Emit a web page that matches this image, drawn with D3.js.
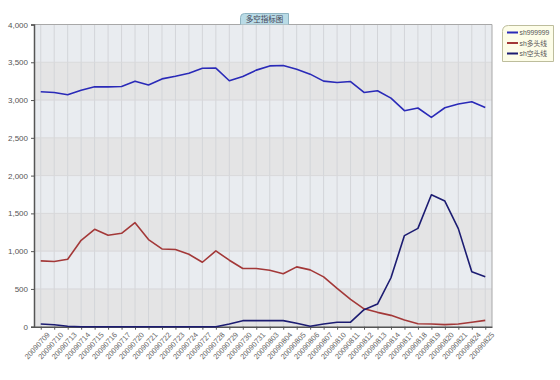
<!DOCTYPE html>
<html><head><meta charset="utf-8">
<script src="https://cdn.jsdelivr.net/npm/d3@7"></script>
<style>
html,body{margin:0;padding:0;background:#fff;}
svg{display:block;font-family:"Liberation Sans","Noto Sans CJK SC",sans-serif;}
</style></head>
<body><svg id="c" width="560" height="380"></svg>
<script>
const title = "多空指标图";
const categories = ["20090709","20090710","20090713","20090714","20090715","20090716","20090717","20090720","20090721","20090722","20090723","20090724","20090727","20090728","20090729","20090730","20090731","20090803","20090804","20090805","20090806","20090807","20090810","20090811","20090812","20090813","20090814","20090817","20090818","20090819","20090820","20090821","20090824","20090825"];
const seriesNames = ["sh999999","sh多头线","sh空头线"];
const sh999999 = [3110,3100,3070,3130,3175,3175,3180,3250,3200,3280,3315,3355,3420,3422,3255,3312,3396,3452,3457,3409,3343,3250,3232,3245,3100,3123,3026,2859,2895,2771,2898,2947,2978,2902];
const longLine = [871,863,893,1144,1289,1210,1236,1377,1153,1029,1021,959,853,1003,880,770,770,748,700,792,752,660,506,361,237,190,150,88,40,36,27,36,58,84];
const shortLine = [35,25,5,0,0,0,0,0,0,0,0,0,0,0,35,80,80,80,80,45,5,35,58,60,225,300,648,1206,1302,1747,1663,1298,726,660];
const yTicks = [0,500,1000,1500,2000,2500,3000,3500,4000];
const colors = ["#2a2ab8","#a33838","#1c1c72"];

const svg = d3.select("#c");
const L = 34, R = 492, T = 24.5, B = 326.7;
const x = d3.scalePoint().domain(categories).range([L, R]).padding(0.5);
const y = d3.scaleLinear().domain([0, 4000]).range([B, T]);

// bands
const bands = d3.pairs(yTicks);
svg.append("g").selectAll("rect").data(bands).join("rect")
  .attr("x", L).attr("width", R - L)
  .attr("y", d => y(d[1])).attr("height", d => y(d[0]) - y(d[1]))
  .attr("fill", (d, i) => i % 2 === 0 ? "#e4e4e5" : "#e9ecf0");

// vertical grid
svg.append("g").selectAll("line").data(categories).join("line")
  .attr("x1", d => x(d)).attr("x2", d => x(d)).attr("y1", T).attr("y2", B)
  .attr("stroke", "#d3d5d9").attr("stroke-width", 1);
// horizontal grid
svg.append("g").selectAll("line").data(yTicks).join("line")
  .attr("x1", L).attr("x2", R).attr("y1", d => y(d)).attr("y2", d => y(d))
  .attr("stroke", "#d8d8da").attr("stroke-width", 1);

// border top/right
svg.append("path").attr("d", `M${L},${T}H${R}V${B}`).attr("fill", "none").attr("stroke", "#a8a8a8");

// y axis
const ya = svg.append("g").attr("transform", `translate(${L},0)`)
  .call(d3.axisLeft(y).tickValues(yTicks).tickFormat(d3.format(",")).tickSize(3).tickPadding(3));
ya.select(".domain").attr("stroke", "#555").attr("stroke-width", 1.5);
ya.selectAll(".tick line").attr("stroke", "#555");
ya.selectAll("text").attr("fill", "#555").attr("font-size", 8);

// x axis
const xa = svg.append("g").attr("transform", `translate(0,${B})`)
  .call(d3.axisBottom(x).tickSize(3).tickSizeOuter(0).tickPadding(2));
xa.select(".domain").attr("stroke", "#555").attr("stroke-width", 1.5);
xa.selectAll(".tick line").attr("stroke", "#555");
xa.selectAll("text").attr("fill", "#666").attr("font-size", 7.5)
  .attr("text-anchor", "end").attr("dx", "0").attr("dy", "0.6em")
  .attr("transform", "translate(2,2) rotate(-48)");

// lines
const allSeries = [sh999999, longLine, shortLine];
const line = d3.line().x((d, i) => x(categories[i])).y(d => y(d));
svg.append("g").selectAll("path").data(allSeries).join("path")
  .attr("d", d => line(d)).attr("fill", "none")
  .attr("stroke", (d, i) => colors[i]).attr("stroke-width", 1.6)
  .attr("stroke-linejoin", "round");

// title tab
const tt = svg.append("g");
tt.append("path").attr("d", "M240.5,24.5V17.5Q240.5,13.5 244.5,13.5H288.5V24.5")
  .attr("fill", "#b9dbe6").attr("stroke", "#8fb4c2");
tt.append("text").attr("x", 264.5).attr("y", 22).attr("text-anchor", "middle")
  .attr("font-size", 7.5).attr("fill", "#445").text(title);

// legend
const lg = svg.append("g");
lg.append("path").attr("d", "M502.5,61.5V31.5Q502.5,25.5 508.5,25.5H553.5V61.5Z")
  .attr("fill", "#fdfde8").attr("stroke", "#bdbd9c");
seriesNames.forEach((n, i) => {
  const yy = 32.5 + i * 10.5;
  lg.append("line").attr("x1", 507).attr("x2", 518).attr("y1", yy).attr("y2", yy)
    .attr("stroke", colors[i]).attr("stroke-width", 2);
  lg.append("text").attr("x", 519.5).attr("y", yy + 2.5).attr("font-size", 6.8)
    .attr("fill", "#555").text(n);
});
</script></body></html>
